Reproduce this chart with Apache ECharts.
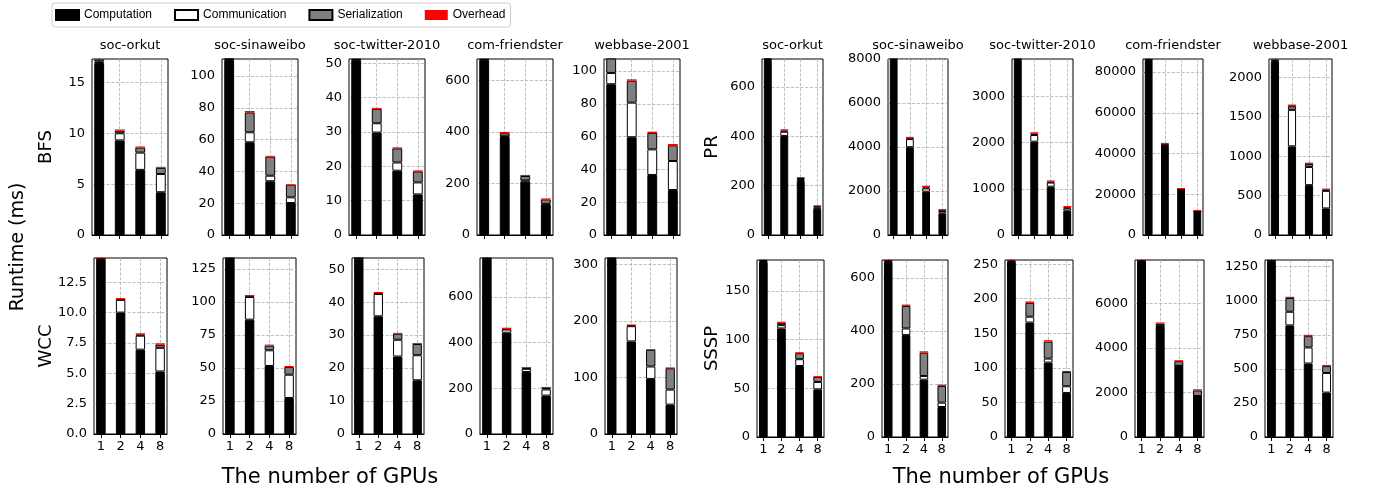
<!DOCTYPE html>
<html>
<head>
<meta charset="utf-8">
<script src="https://cdn.jsdelivr.net/npm/echarts@6/dist/echarts.min.js"></script>
<style>
  html, body { margin: 0; padding: 0; background: #fff; }
  #chart { width: 1374px; height: 495px; }
</style>
</head>
<body>
<div id="chart"></div>
<script>
const gpus = ["1", "2", "4", "8"];
const graphs = ["soc-orkut", "soc-sinaweibo", "soc-twitter-2010", "com-friendster", "webbase-2001"];
const parts = ["Computation", "Communication", "Serialization", "Overhead"];

// one row per graph, values for 1/2/4/8 GPUs
const bfsComp = [[16.9, 9.3, 6.4, 4.2], [110, 58.3, 33.8, 20.1], [50.8, 29.8, 18.7, 11.8], [678, 380, 207, 118], [91.9, 59.6, 36.6, 27.4]];
const bfsComm = [[0.15, 0.7, 1.7, 1.8], [0.5, 6.3, 3.5, 3.6], [0.2, 2.7, 2.4, 3.5], [2, 3, 5, 3], [6.9, 21.1, 15.6, 17.7]];
const bfsSer = [[0.2, 0.25, 0.5, 0.6], [0.3, 12.5, 12, 8], [0.2, 4.2, 4.1, 3.2], [3, 12, 17, 17], [9, 13.4, 10, 9.6]];
const bfsOver = [[0.1, 0.12, 0.1, 0.1], [0.6, 0.9, 0.5, 0.4], [0.3, 0.3, 0.3, 0.3], [4, 5, 4, 4], [0.8, 0.8, 0.8, 0.8]];
const bfsMax = [17.3, 110.7, 51.2, 683, 107.3];
const bfsTicks = [[0, 5, 10, 15], [0, 20, 40, 60, 80, 100], [0, 10, 20, 30, 40, 50], [0, 200, 400, 600], [0, 20, 40, 60, 80, 100]];

const wccComp = [[14.4, 10.0, 6.95, 5.15], [133, 86.6, 51.5, 27.3], [53.2, 35.7, 23.5, 16.3], [766, 443, 271, 168], [310, 164, 97.6, 52]];
const wccComm = [[0.05, 1.05, 1.15, 1.95], [0.3, 17.2, 11.9, 17.6], [0.1, 6.8, 5.1, 7.6], [2, 14, 14, 27], [1, 27, 22, 26.7]];
const wccSer = [[0.02, 0.05, 0.1, 0.25], [0.2, 0.5, 3.5, 5.8], [0.1, 0.2, 1.8, 3.4], [2, 3, 4, 6], [1, 1.5, 29.5, 37.8]];
const wccOver = [[0.1, 0.1, 0.1, 0.12], [1.0, 1.0, 0.8, 0.8], [0.4, 0.4, 0.3, 0.3], [5, 5, 4, 5], [1.5, 1.5, 1.5, 1.5]];
const wccMax = [14.5, 133.3, 53.4, 770, 311.8];
const wccTicks = [[0, 2.5, 5, 7.5, 10, 12.5], [0, 25, 50, 75, 100, 125], [0, 10, 20, 30, 40, 50], [0, 200, 400, 600], [0, 100, 200, 300]];

const prComp = [[710, 402, 219, 106], [7960, 3990, 1970, 985], [3790, 2020, 1045, 528], [86000, 44000, 22300, 11600], [2200, 1124, 632, 337]];
const prComm = [[3, 17, 8, 6], [20, 370, 150, 105], [10, 145, 90, 50], [100, 200, 100, 50], [10, 463, 231, 223]];
const prSer = [[2, 5, 4, 5], [20, 30, 40, 30], [10, 25, 20, 20], [200, 300, 200, 100], [10, 47, 38, 12]];
const prOver = [[5, 5, 4, 3.5], [60, 70, 80, 60], [30, 35, 25, 30], [700, 700, 400, 300], [17, 20, 17, 17]];
const prMax = [714, 8000, 3810, 86400, 2232];
const prTicks = [[0, 200, 400, 600], [0, 2000, 4000, 6000, 8000], [0, 1000, 2000, 3000], [0, 20000, 40000, 60000, 80000], [0, 500, 1000, 1500, 2000]];

const ssspComp = [[180, 111.6, 73, 49], [660, 384, 216, 113], [253, 165.5, 107.6, 63.7], [7900, 4980, 3190, 1830], [1290, 819, 539, 326]];
const ssspComm = [[1, 3.4, 7, 7.6], [3, 25, 14, 16.5], [1, 8.5, 5.8, 9.7], [10, 20, 10, 10], [3, 100, 118, 144]];
const ssspSer = [[1, 2.4, 6.2, 5.2], [3, 85, 88, 63], [1.5, 20, 24.6, 20.6], [30, 85, 205, 250], [5, 101, 83, 50]];
const ssspOver = [[1.2, 1.2, 1, 1], [5, 5, 5, 5], [2, 2, 2, 1.6], [60, 60, 45, 55], [9, 9, 10, 9]];
const ssspMax = [182, 667, 256, 7950, 1299];
const ssspTicks = [[0, 50, 100, 150], [0, 200, 400, 600], [0, 50, 100, 150, 200, 250], [0, 2000, 4000, 6000], [0, 250, 500, 750, 1000, 1250]];

const colors = ["#000000", "#ffffff", "#808080", "#ff0000"];
const font = "DejaVu Sans";

const rows = [
  { name: "BFS", data: [bfsComp, bfsComm, bfsSer, bfsOver], yMax: bfsMax, ticks: bfsTicks,
    top: 59, height: 176, lefts: [92, 222, 349, 477, 604], widths: [76, 76, 76, 76, 76], title: true, xLabels: false, lx: 46 },
  { name: "WCC", data: [wccComp, wccComm, wccSer, wccOver], yMax: wccMax, ticks: wccTicks,
    top: 258, height: 176, lefts: [94, 223, 352, 480, 605], widths: [73, 73, 72, 73, 72], title: false, xLabels: true, lx: 46 },
  { name: "PR", data: [prComp, prComm, prSer, prOver], yMax: prMax, ticks: prTicks,
    top: 59, height: 176, lefts: [762, 888, 1012, 1143, 1269], widths: [61, 60, 61, 60, 63], title: true, xLabels: false, lx: 712 },
  { name: "SSSP", data: [ssspComp, ssspComm, ssspSer, ssspOver], yMax: ssspMax, ticks: ssspTicks,
    top: 260, height: 177, lefts: [757, 882, 1005, 1135, 1265], widths: [67, 66, 68, 69, 68], title: false, xLabels: true, lx: 712 }
];

const grid = [], xAxis = [], yAxis = [], series = [], graphic = [];
const dash = { type: "dashed", color: "#b0b0b0", width: 0.8 };
const xPos = [0, 1, 2, 3];

rows.forEach(row => {
  graphic.push({
    type: "text", x: row.lx, y: row.top + row.height / 2, rotation: Math.PI / 2,
    style: { text: row.name, font: "18px " + font, fill: "#000", textAlign: "center", textVerticalAlign: "middle" }
  });
  graphs.forEach((gname, j) => {
    const g = grid.length;
    const w = row.widths[j];
    grid.push({ left: row.lefts[j], top: row.top, width: w, height: row.height,
      show: true, borderColor: "#000", borderWidth: 1, backgroundColor: "transparent" });
    if (row.title) {
      graphic.push({
        type: "text", x: row.lefts[j] + w / 2, y: 46,
        style: { text: gname, font: "13px " + font, fill: "#000", textAlign: "center", textVerticalAlign: "middle" }
      });
    }
    xAxis.push({
      type: "value", gridIndex: g, min: -0.35, max: 3.35, interval: 1,
      axisLine: { show: true, lineStyle: { color: "#000", width: 1 } },
      axisTick: { show: true, length: 4, customValues: xPos, lineStyle: { color: "#000" } },
      axisLabel: { show: row.xLabels, customValues: xPos, formatter: v => gpus[Math.round(v)],
        color: "#000", fontSize: 13, fontFamily: font, margin: 6 },
      splitLine: { show: true, lineStyle: dash }
    });
    const ticks = row.ticks[j];
    const dec = ticks.some(t => t % 1 !== 0);
    yAxis.push({
      type: "value", gridIndex: g, min: 0, max: row.yMax[j], interval: ticks[1] - ticks[0],
      axisLine: { show: true, lineStyle: { color: "#000", width: 1 } },
      axisTick: { show: true, length: 4, customValues: ticks, lineStyle: { color: "#000" } },
      axisLabel: { customValues: ticks, formatter: v => dec ? v.toFixed(1) : String(v),
        color: "#000", fontSize: 13, fontFamily: font, margin: 7 },
      splitLine: { show: true, lineStyle: dash }
    });
    const bw = 0.48 * w / 3.7;
    row.data.forEach((arr, k) => {
      series.push({
        type: "bar", name: parts[k], xAxisIndex: g, yAxisIndex: g, stack: "s" + g,
        barWidth: bw, clip: true, silent: true,
        // value first so the stack runs on y, position second
        encode: { x: 1, y: 0 },
        data: arr[j].map((v, i) => [v, i]),
        itemStyle: { color: colors[k], borderColor: "#000", borderWidth: k === 3 ? 0 : 1 }
      });
    });
  });
});

graphic.push({
  type: "text", x: 18, y: 247, rotation: Math.PI / 2,
  style: { text: "Runtime (ms)", font: "19px " + font, fill: "#000", textAlign: "center", textVerticalAlign: "middle" }
});
[330, 1001].forEach(cx => {
  graphic.push({
    type: "text", x: cx, y: 478,
    style: { text: "The number of GPUs", font: "21px " + font, fill: "#000", textAlign: "center", textVerticalAlign: "middle" }
  });
});

const chart = echarts.init(document.getElementById("chart"));
chart.setOption({
  animation: false,
  legend: {
    data: parts, left: 52, top: 3, itemWidth: 23, itemHeight: 10, itemGap: 22, icon: "rect",
    padding: [6, 5, 6, 3], borderColor: "#cccccc", borderWidth: 1, borderRadius: 3,
    textStyle: { fontFamily: "Liberation Sans", fontSize: 12, color: "#000" }
  },
  grid, xAxis, yAxis, series, graphic
});
</script>
</body>
</html>
